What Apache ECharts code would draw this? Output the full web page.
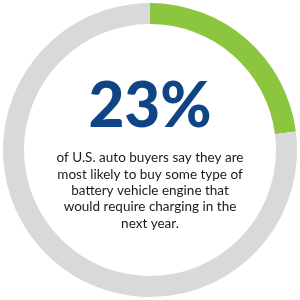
<!DOCTYPE html>
<html>
<head>
<meta charset="utf-8">
<script src="https://cdn.jsdelivr.net/npm/echarts@6/dist/echarts.min.js"></script>
<style>
  html, body { margin: 0; padding: 0; background: #fff; }
  #chart { width: 300px; height: 300px; }
</style>
</head>
<body>
<div id="chart"></div>
<script>
  // share of buyers
  const names = ['Charging engine', 'Other']
  const values = [23, 77]
  const colors = ['#8cc63f', '#d9d9d9']
  const caption = [
    'of U.S. auto buyers say they are',
    'most likely to buy some type of',
    'battery vehicle engine that',
    'would require charging in the',
    'next year.'
  ]

  const total = values.reduce((a, b) => a + b, 0)
  const pct = Math.round(values[0] / total * 100) + '%'

  const chart = echarts.init(document.getElementById('chart'))
  chart.setOption({
    animation: false,
    series: [
      {
        type: 'pie',
        center: ['50%', '50%'],
        radius: ['84%', '98%'],
        startAngle: 90,
        clockwise: true,
        silent: true,
        label: { show: false },
        labelLine: { show: false },
        itemStyle: { borderWidth: 0 },
        data: names.map((n, i) => ({
          name: n,
          value: values[i],
          itemStyle: { color: colors[i] }
        }))
      }
    ],
    graphic: [
      {
        type: 'text',
        left: 'center',
        top: 76,
        style: {
          text: pct,
          fill: '#0f4585',
          font: '900 62px Lato'
        }
      }
    ].concat(caption.map((line, i) => ({
      type: 'text',
      left: 'center',
      top: 151 + i * 16.3,
      style: {
        text: line,
        fill: '#1a1a1a',
        font: '13.5px Lato'
      }
    })))
  })
  window.addEventListener('resize', function () {
    chart.resize()
  })
</script>
</body>
</html>
